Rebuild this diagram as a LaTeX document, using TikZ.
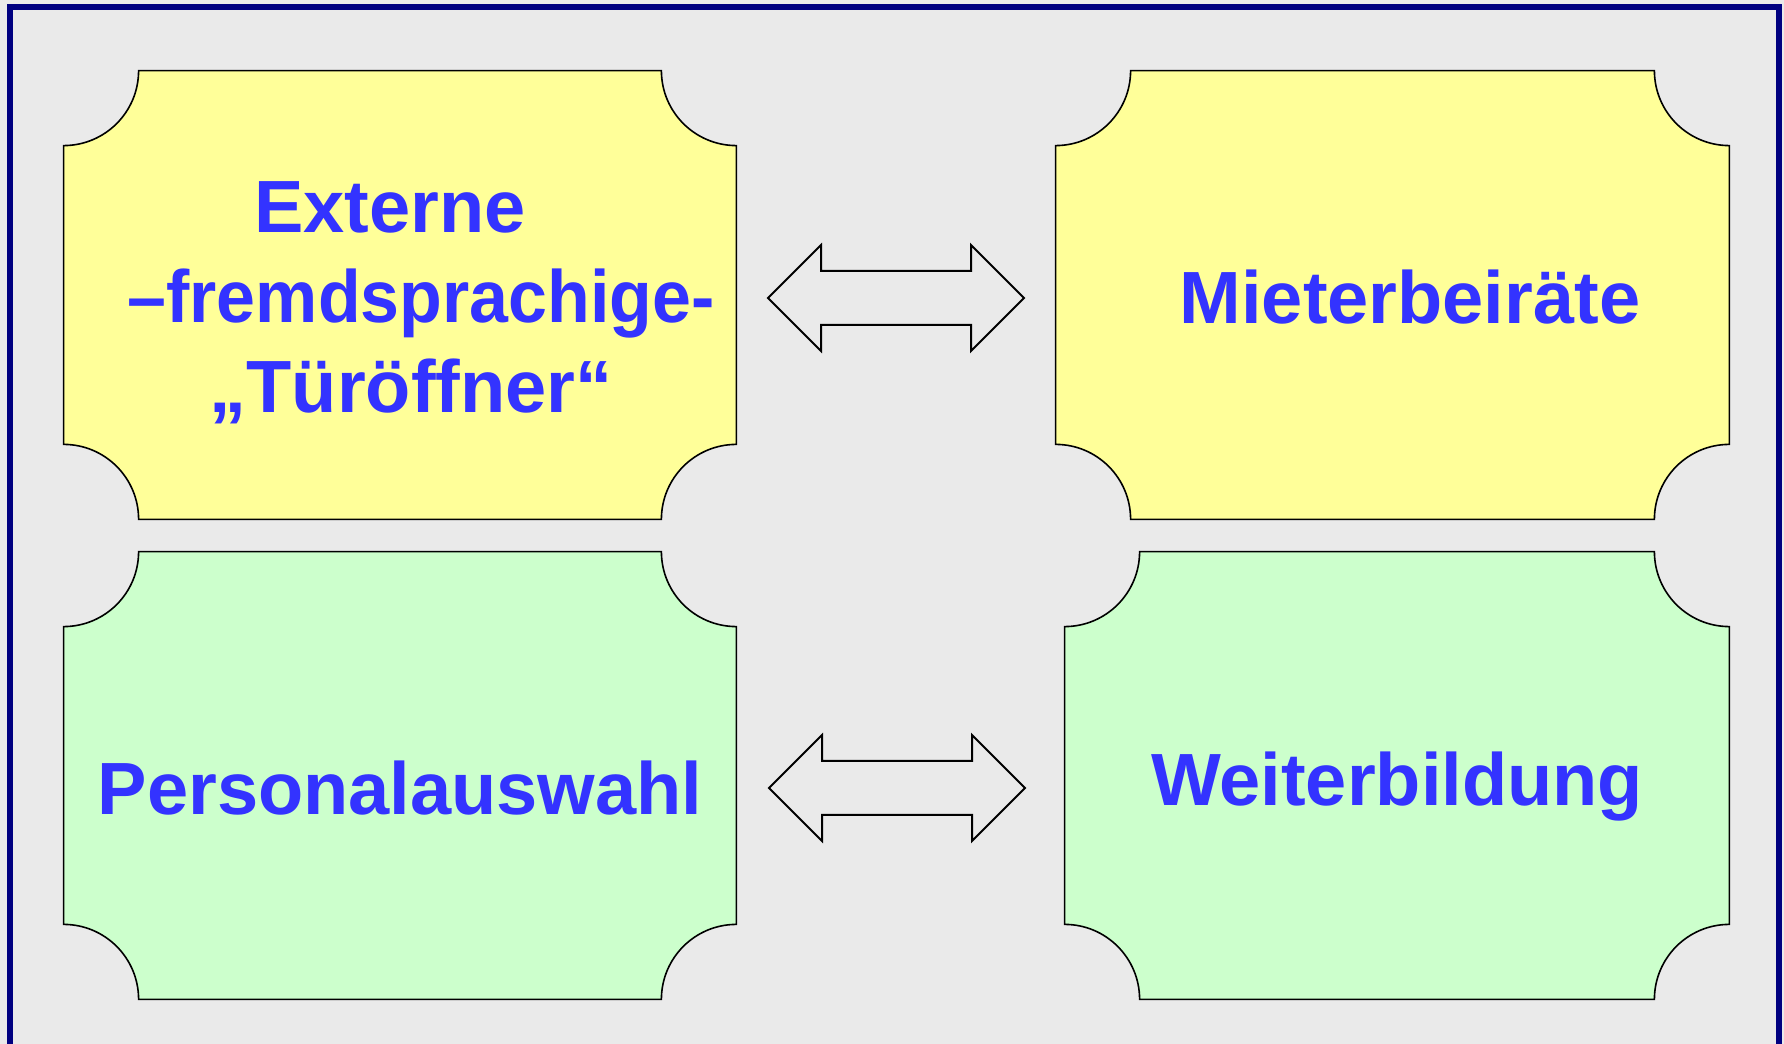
\documentclass[tikz,border=0pt]{standalone}
\usepackage{fontspec}
\setmainfont{Liberation Sans}
\usetikzlibrary{shapes.arrows,calc}

\definecolor{paneYellow}{HTML}{FFFF99}
\definecolor{paneGreen}{HTML}{CCFFCC}
\definecolor{labelBlue}{HTML}{3333FF}
\definecolor{frameNavy}{HTML}{000080}
\definecolor{canvasGray}{HTML}{EAEAEA}

% pane outline with the four corners cut out as quarter circles
\newcommand{\notchr}{37.5pt}
\newcommand{\notchpane}[2]{%
  \draw[fill=#2, line width=0.8pt]
    ($(#1.north west)+(\notchr,0)$) -- ($(#1.north east)+(-\notchr,0)$)
    arc[start angle=180, end angle=270, radius=\notchr]
    -- ($(#1.south east)+(0,\notchr)$)
    arc[start angle=90, end angle=180, radius=\notchr]
    -- ($(#1.south west)+(\notchr,0)$)
    arc[start angle=0, end angle=90, radius=\notchr]
    -- ($(#1.north west)+(0,-\notchr)$)
    arc[start angle=270, end angle=360, radius=\notchr]
    -- cycle;}

\begin{document}
\begin{tikzpicture}[x=0.5pt, y=0.5pt,
    pane/.style={rectangle, inner sep=0pt, minimum width=336pt, minimum height=224pt},
    paneText/.style={text=labelBlue, font=\fontsize{37}{45}\selectfont\bfseries, align=center, inner sep=0pt},
    swaparrow/.style={double arrow, draw, line width=1pt, fill=canvasGray, inner xsep=0pt, inner ysep=13pt,
        minimum height=128pt, double arrow head extend=13pt}]
    \clip (0,0) rectangle (1784,1044);

    % Background and frame
    \fill[canvasGray] (0,0) rectangle (1784,1044);
    \draw[frameNavy, line width=3pt] (10,1036.5) rectangle (1779,-20);

    % Panes
    \node[pane] (ext) at (400,749) {};
    \node[pane, minimum width=336.5pt] (mieter) at (1392.5,749) {};
    \node[pane, minimum height=223.5pt] (personal) at (400,268.5) {};
    \node[pane, minimum width=332pt, minimum height=223.5pt] (weiter) at (1397,268.5) {};
    \notchpane{ext}{paneYellow}
    \notchpane{mieter}{paneYellow}
    \notchpane{personal}{paneGreen}
    \notchpane{weiter}{paneGreen}

    % Texts
    \node[paneText] (extText) at (407,741)
        {Externe\hspace*{17pt}\\\hspace*{14pt}\scalebox{0.945}[1]{–fremdsprachige-}\\\hspace*{4pt}„Türöffner“};
    \node[paneText, anchor=base] (mieterText) at (1410,720) {Mieterbeiräte};
    \node[paneText, anchor=base] (personalText) at (400,229) {Personalauswahl};
    \node[paneText, anchor=base] (weiterText) at (1397,238.5) {Weiterbildung};

    % Double arrows between the panes
    \node[swaparrow] (topSwap) at (896,746) {};
    \node[swaparrow] (bottomSwap) at (897,256) {};
\end{tikzpicture}
\end{document}
